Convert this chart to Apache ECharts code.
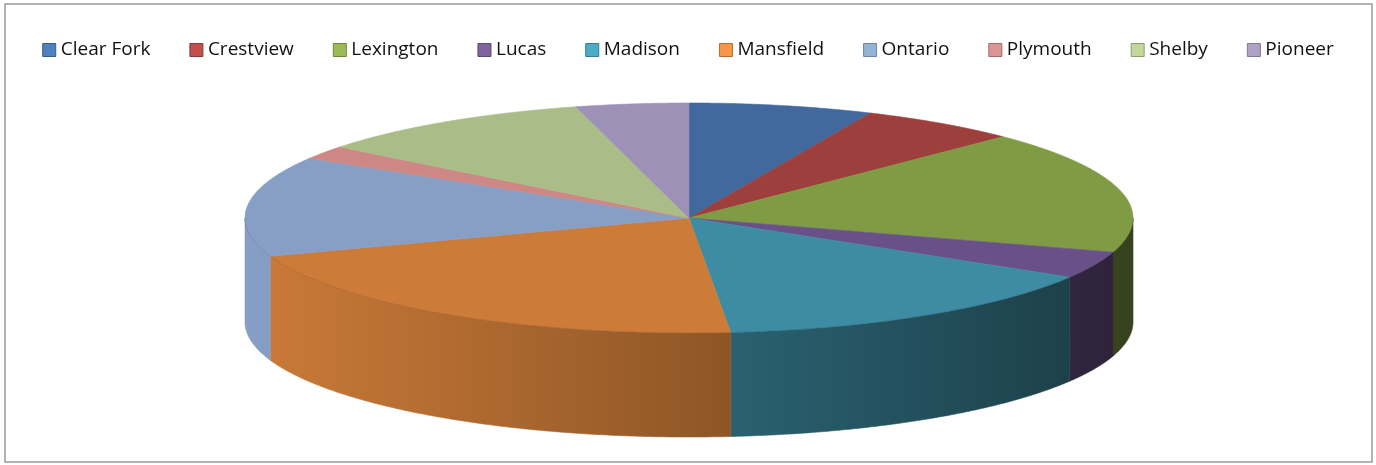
<!DOCTYPE html>
<html>
<head>
<meta charset="utf-8">
<style>
  html, body { margin: 0; padding: 0; background: #ffffff; }
  #chart { width: 1376px; height: 465px; }
</style>
<script src="https://cdn.jsdelivr.net/npm/echarts@6/dist/echarts.min.js"></script>
</head>
<body>
<div id="chart"></div>
<script>
// Share of students by district (percent)
const schools = ['Clear Fork', 'Crestview', 'Lexington', 'Lucas', 'Madison',
                 'Mansfield', 'Ontario', 'Plymouth', 'Shelby', 'Pioneer'];
const shares = [6.7, 5.8, 17.3, 3.8, 14.9, 21.1, 14.1, 1.9, 10.3, 4.1];

// Legend swatch colours, their outlines, and the lit colour of each slice's top face
const swatchColors = ['#4F81BD', '#C0504D', '#9BBB59', '#8064A2', '#4BACC6',
                      '#F79646', '#95B3D7', '#D99694', '#C3D69B', '#B2A1C7'];
const swatchBorders = ['#385D8A', '#8C3836', '#71893F', '#5C4776', '#357D91',
                       '#B66D31', '#6D86A5', '#A06B69', '#8E9E71', '#8276A0'];
const faceColors = ['#41699E', '#9D403D', '#7F9C45', '#6A5088', '#3D8CA3',
                    '#CC7B38', '#879FC5', '#CD8886', '#AABD88', '#9D91B7'];

// Tilted-disc geometry
const CX = 689, CY = 218, RX = 444, RY = 115, DEPTH = 104;

function pt(deg, dy) {
  const t = deg * Math.PI / 180;
  return [CX + RX * Math.sin(t), CY - RY * Math.cos(t) + (dy || 0)];
}

function arc(a0, a1, dy) {
  const pts = [];
  const n = Math.max(2, Math.ceil(Math.abs(a1 - a0) / 0.5));
  for (let k = 0; k <= n; k++) pts.push(pt(a0 + (a1 - a0) * k / n, dy));
  return pts;
}

function shade(hex, f) {
  const c = parseInt(hex.slice(1), 16);
  const r = Math.round(((c >> 16) & 255) * f);
  const g = Math.round(((c >> 8) & 255) * f);
  const b = Math.round((c & 255) * f);
  return 'rgb(' + r + ',' + g + ',' + b + ')';
}

const total = shares.reduce((a, b) => a + b, 0);

function renderSlice(params, api) {
  const i = params.seriesIndex;
  let before = 0;
  for (let k = 0; k < i; k++) before += shares[k];
  const v = api.value(0);
  const a0 = before / total * 360;
  const a1 = (before + v) / total * 360;
  const face = faceColors[i];
  const children = [];

  // Front wall: only the part facing the viewer (90..270 deg clockwise from top)
  const s0 = Math.max(a0, 90), s1 = Math.min(a1, 270);
  if (s1 > s0) {
    const top = arc(s0, s1, 0);
    const bottom = arc(s1, s0, DEPTH);
    const grad = new echarts.graphic.LinearGradient(CX - RX, 0, CX + RX, 0, [
      { offset: 0, color: shade(face, 1.0) },
      { offset: 0.5, color: shade(face, 0.72) },
      { offset: 1, color: shade(face, 0.42) }
    ], true);
    children.push({
      type: 'polygon',
      z2: 1,
      shape: { points: top.concat(bottom) },
      style: { fill: grad, stroke: grad, lineWidth: 0.6 }
    });
    children.push({
      type: 'polyline',
      z2: 20,
      shape: { points: arc(s0, s1, 0) },
      style: { fill: null, stroke: 'rgba(0,0,0,0.12)', lineWidth: 1 }
    });
  }

  // Top face
  children.push({
    type: 'polygon',
    z2: 10,
    shape: { points: [[CX, CY]].concat(arc(a0, a1, 0)) },
    style: { fill: face, stroke: face, lineWidth: 0.6 }
  });

  return { type: 'group', children: children };
}

const series = schools.map((name, i) => ({
  type: 'custom',
  name: name,
  coordinateSystem: 'none',
  silent: true,
  animation: false,
  itemStyle: { color: swatchColors[i], borderColor: swatchBorders[i], borderWidth: 1 },
  renderItem: renderSlice,
  data: [[shares[i]]]
}));

const chart = echarts.init(document.getElementById('chart'), null, { renderer: 'canvas' });
chart.setOption({
  backgroundColor: '#ffffff',
  animation: false,
  legend: {
    data: schools,
    top: 34,
    left: 'center',
    icon: 'rect',
    itemWidth: 13,
    itemHeight: 13,
    itemGap: 39,
    selectedMode: false,
    itemStyle: { borderWidth: 1 },
    textStyle: { fontFamily: 'Open Sans', fontSize: 19, color: '#111111', lineHeight: 22 }
  },
  graphic: [{
    type: 'rect',
    silent: true,
    shape: { x: 5, y: 4, width: 1367, height: 458 },
    style: { fill: null, stroke: '#9a9a9a', lineWidth: 1.5 }
  }],
  series: series
});
</script>
</body>
</html>
